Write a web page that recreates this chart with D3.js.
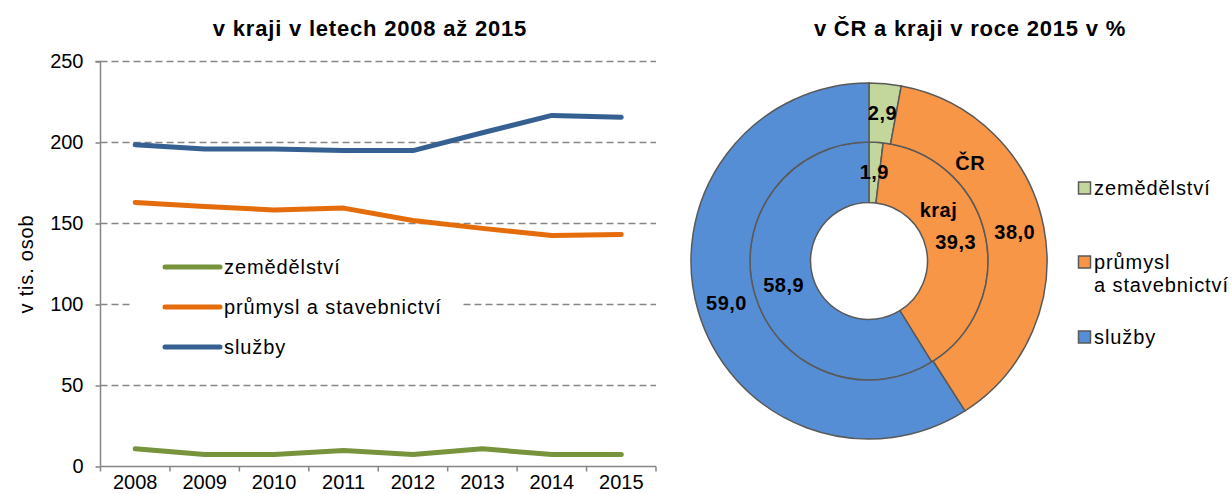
<!DOCTYPE html>
<meta charset="utf-8">
<title>Zaměstnaní podle sektorů</title>
<style>
body {
  margin: 0;
  background: #fff;
}

text {
  font-family: "Liberation Sans", Arial, sans-serif;
  fill: #000;
}

.title {
  font-size: 22px;
  font-weight: bold;
  letter-spacing: 0.8px;
}

.tick text {
  font-size: 20px;
}

.grid line {
  stroke: #868686;
  stroke-width: 1.5;
  stroke-dasharray: 7,4;
}

.legend text {
  font-size: 20px;
  letter-spacing: 0.9px;
}

.slice-label {
  font-size: 20px;
  font-weight: bold;
  letter-spacing: 0.5px;
}
</style>
<body>
<div id="chart"></div>

<script src="https://d3js.org/d3.v7.min.js"></script>
<script>
// Data: line chart (v tis. osob)
const years = [2008, 2009, 2010, 2011, 2012, 2013, 2014, 2015];
const zemedelstvi = [10.9, 7.4, 7.4, 9.9, 7.4, 10.9, 7.4, 7.4];
const prumysl = [163, 160.5, 158.4, 159.5, 151.8, 147, 142.6, 143.2];
const sluzby = [198.6, 196, 196, 195, 195, 206, 216.7, 215.6];
const yTicks = [0, 50, 100, 150, 200, 250];

// Data: donut (v %)
const sectorNames = ["zemědělství", "průmysl a stavebnictví", "služby"];
const crShares = [2.9, 38.0, 59.0];
const krajShares = [1.9, 39.3, 58.9];

const lineColors = ["#77933C", "#E46C0A", "#376092"];
const pieColors = ["#C3D69B", "#F79646", "#558ED5"];

const width = 1232;
const height = 494;

const svg = d3.select("#chart")
  .append("svg")
    .attr("width", width)
    .attr("height", height);

// ---------- Left: line chart ----------
const plot = { left: 100.5, right: 656, top: 61.5, bottom: 466.5 };

const x = d3.scaleBand()
    .domain(years)
    .range([plot.left, plot.right]);

const y = d3.scaleLinear()
    .domain([0, 250])
    .range([plot.bottom, plot.top]);

svg.append("text")
    .attr("class", "title")
    .attr("x", 370)
    .attr("y", 36)
    .attr("text-anchor", "middle")
    .text("v kraji v letech 2008 až 2015");

// dashed gridlines
svg.append("g")
    .attr("class", "grid")
  .selectAll("line")
  .data(yTicks.filter(d => d > 0))
  .enter().append("line")
    .attr("x1", plot.left)
    .attr("x2", plot.right)
    .attr("y1", d => y(d))
    .attr("y2", d => y(d));

// y axis
const yAxis = svg.append("g")
    .attr("transform", `translate(${plot.left},0)`)
    .call(d3.axisLeft(y).tickValues(yTicks).tickSize(5).tickPadding(12));

// x axis, ticks between categories
const xAxis = svg.append("g")
    .attr("transform", `translate(0,${plot.bottom})`)
    .call(d3.axisBottom(x).tickSize(0));

// labels sit low, right at the bottom edge
xAxis.selectAll(".tick text")
    .attr("y", 22)
    .attr("dy", 0);

const boundaries = years.map(d => x(d)).concat([plot.right]);
xAxis.selectAll(".boundary")
  .data(boundaries)
  .enter().append("line")
    .attr("class", "boundary")
    .attr("x1", d => d)
    .attr("x2", d => d)
    .attr("y1", 0)
    .attr("y2", 5);

[yAxis, xAxis].forEach(a => {
  a.select(".domain").attr("stroke", "#868686").attr("stroke-width", 1.5);
  a.selectAll("line").attr("stroke", "#868686").attr("stroke-width", 1.5);
});
yAxis.select(".domain").attr("d", `M-5,${plot.top}H0V${plot.bottom}`);
xAxis.select(".domain").attr("d", `M${plot.left},0H${plot.right}`);

svg.append("text")
    .attr("transform", "translate(33,264) rotate(-90)")
    .attr("text-anchor", "middle")
    .style("font-size", "20px")
    .style("letter-spacing", "0.8px")
    .text("v tis. osob");

// legend inside plot (white box hides gridline behind)
const legend = svg.append("g")
    .attr("class", "legend");

legend.append("rect")
    .attr("x", 132)
    .attr("y", 248)
    .attr("width", 330)
    .attr("height", 118)
    .attr("fill", "#fff");

const series = [zemedelstvi, prumysl, sluzby];

const legendY = d3.scalePoint()
    .domain(sectorNames)
    .range([267, 347]);

legend.selectAll(".item")
  .data(sectorNames)
  .enter().append("g")
    .attr("class", "item")
    .attr("transform", d => `translate(0,${legendY(d)})`)
    .each(function(d, i) {
      const g = d3.select(this);
      g.append("line")
          .attr("x1", 165)
          .attr("x2", 220)
          .attr("stroke", lineColors[i])
          .attr("stroke-width", 5)
          .attr("stroke-linecap", "round");
      g.append("text")
          .attr("x", 224)
          .attr("dy", "0.35em")
          .text(d);
    });

// lines
const line = d3.line()
    .x((d, i) => x(years[i]) + x.bandwidth() / 2)
    .y(d => y(d));

svg.selectAll(".series")
  .data(series)
  .enter().append("path")
    .attr("class", "series")
    .attr("d", line)
    .attr("fill", "none")
    .attr("stroke", (d, i) => lineColors[i])
    .attr("stroke-width", 5)
    .attr("stroke-linecap", "round")
    .attr("stroke-linejoin", "round");

// ---------- Right: double donut ----------
const cx = 869;
const cy = 261;
const rHole = 58.5;
const rMid = 119;
const rOuter = 178;

svg.append("text")
    .attr("class", "title")
    .attr("x", 970)
    .attr("y", 36)
    .attr("text-anchor", "middle")
    .text("v ČR a kraji v roce 2015 v %");

const pie = d3.pie().sort(null).value(d => d);

const donut = svg.append("g")
    .attr("transform", `translate(${cx},${cy})`);

const rings = [
  { name: "kraj", values: krajShares, inner: rHole, outer: rMid, labelAt: [0.94, 86] },
  { name: "ČR", values: crShares, inner: rMid, outer: rOuter, labelAt: [0.80, 141] }
];

rings.forEach(ring => {
  const arc = d3.arc()
      .innerRadius(ring.inner)
      .outerRadius(ring.outer);

  const arcs = pie(ring.values);

  donut.append("g")
    .selectAll("path")
    .data(arcs)
    .enter().append("path")
      .attr("d", arc)
      .attr("fill", (d, i) => pieColors[i])
      .attr("stroke", "#595959")
      .attr("stroke-width", 1.5);

  donut.append("g")
    .selectAll("text")
    .data(arcs)
    .enter().append("text")
      .attr("class", "slice-label")
      .attr("transform", d => `translate(${arc.centroid(d)})`)
      .attr("text-anchor", "middle")
      .attr("dy", "0.35em")
      .text(d => d3.format(".1f")(d.data).replace(".", ","));

  // ring name
  donut.append("text")
      .attr("class", "slice-label")
      .attr("transform", `translate(${d3.pointRadial(ring.labelAt[0], ring.labelAt[1])})`)
      .attr("text-anchor", "middle")
      .attr("dy", "0.35em")
      .text(ring.name);
});

// legend for donut
const pieLegendY = [188, 262, 337];
const pieLegend = svg.append("g")
    .attr("class", "legend");

pieLegend.selectAll("g")
  .data(sectorNames)
  .enter().append("g")
    .attr("transform", (d, i) => `translate(1078,${pieLegendY[i]})`)
    .each(function(d, i) {
      const g = d3.select(this);
      g.append("rect")
          .attr("x", 0.5)
          .attr("y", -6)
          .attr("width", 12)
          .attr("height", 12)
          .attr("fill", pieColors[i])
          .attr("stroke", "#595959")
          .attr("stroke-width", 1.5);
      const lines = d === "průmysl a stavebnictví" ? ["průmysl", "a stavebnictví"] : [d];
      const t = g.append("text")
          .attr("x", 16)
          .attr("dy", "0.35em");
      t.selectAll("tspan")
        .data(lines)
        .enter().append("tspan")
          .attr("x", 16)
          .attr("dy", (l, j) => j === 0 ? "0.35em" : "1.15em")
          .text(l => l);
    });
</script>
</body>
</html>
